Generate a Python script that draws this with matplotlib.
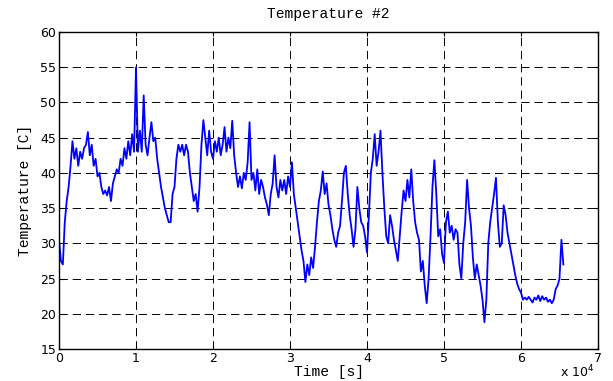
import numpy as np
import matplotlib
matplotlib.use('Agg')
import matplotlib.pyplot as plt
from matplotlib.ticker import FuncFormatter

# sampling step of the trace, seconds
t_step = 250

# temperature, one value every 250 s from t = 0
temp = [
    30.5, 27.5, 27.0, 33.0, 36.0, 38.0, 41.0, 44.5, 42.0, 43.5, 41.0, 43.0,
    42.0, 43.5, 44.0, 45.8, 42.5, 44.0, 41.0, 42.0, 39.5, 40.0, 38.0, 37.0,
    37.5, 36.8, 38.0, 36.0, 38.5, 39.5, 40.5, 40.0, 42.0, 41.0, 43.5, 42.0,
    44.5, 42.5, 45.5, 43.0, 55.0, 43.0, 46.0, 43.0, 51.0, 44.0, 42.5, 45.0,
    47.2, 44.5, 45.0, 42.0, 40.0, 38.0, 36.5, 35.0, 34.0, 33.0, 33.0, 37.0,
    38.0, 42.0, 44.0, 43.0, 44.0, 42.5, 44.0, 43.0, 40.0, 38.0, 36.0, 37.0,
    34.5, 38.0, 44.0, 47.5, 45.0, 42.5, 46.0, 43.0, 42.0, 44.5, 43.0, 45.0,
    42.5, 44.0, 46.5, 43.0, 45.0, 43.5, 47.4, 42.5, 40.0, 38.0, 39.5, 37.8,
    40.0, 39.0, 41.5, 47.2, 39.0, 40.0, 37.5, 40.5, 37.0, 39.0, 38.0, 36.5,
    35.5, 34.0, 37.0, 38.5, 42.5, 38.0, 36.5, 39.0, 37.5, 39.0, 37.0, 39.5,
    38.0, 41.5, 37.0, 35.0, 33.0, 31.0, 29.0, 27.5, 24.5, 27.0, 25.5, 28.0,
    26.5, 29.5, 33.0, 36.0, 37.5, 40.2, 37.0, 38.5, 35.5, 34.0, 32.0, 30.5,
    29.5, 31.5, 32.5, 36.0, 40.0, 41.0, 37.0, 34.0, 32.0, 29.5, 32.0, 38.0,
    35.0, 33.0, 32.5, 31.0, 28.7, 34.0, 40.0, 42.0, 45.5, 41.0, 43.0, 46.0,
    40.0, 35.0, 31.0, 30.0, 34.0, 32.5, 30.5, 29.0, 27.5, 31.0, 34.5, 37.5,
    36.0, 39.0, 36.5, 40.5, 36.0, 33.0, 31.5, 30.5, 26.0, 27.5, 24.0, 21.5,
    25.0, 31.0, 38.0, 41.8, 37.0, 31.0, 32.0, 28.5, 27.2, 33.0, 34.5, 31.5,
    32.5, 30.5, 32.0, 31.5, 27.0, 25.0, 30.0, 33.0, 39.0, 35.0, 32.5, 28.0,
    25.0, 27.0, 25.5, 24.0, 22.0, 18.8, 22.0, 30.0, 33.0, 35.0, 37.0, 39.3,
    33.0, 29.5, 30.0, 35.4, 34.0, 31.5, 30.0, 28.5, 27.0, 25.5, 24.3, 23.5,
    23.0, 22.0, 22.3, 22.0, 22.4, 22.0, 21.6, 22.3, 22.0, 22.6, 21.8, 22.5,
    22.0, 22.3, 21.7, 22.0, 21.5, 22.0, 23.5, 24.0, 25.0, 30.5, 27.0,
]
time = np.arange(len(temp)) * t_step

plt.rcParams['lines.scale_dashes'] = False
mono = 'Liberation Mono'

fig = plt.figure(figsize=(6.13, 3.81), dpi=100)
ax = fig.add_axes([59 / 613, 32 / 381, 539 / 613, 317 / 381])

ax.plot(time, temp, color='#0000FF', linewidth=1.3)

ax.set_xlim(0, 70000)
ax.set_ylim(15, 60)
ax.set_xticks(np.arange(0, 70001, 10000))
ax.set_yticks(np.arange(15, 61, 5))
ax.xaxis.set_major_formatter(FuncFormatter(lambda v, p: f'{v / 1e4:g}'))

ax.grid(True, color='k', linewidth=0.7, linestyle=(0, (6, 3.5)))
ax.tick_params(direction='in', length=3, top=True, right=True,
               labelsize=9, pad=2)
for s in ax.spines.values():
    s.set_linewidth(1.0)

ax.set_title('Temperature #2', fontsize=10.5, family=mono, pad=10)
ax.set_ylabel('Temperature [C]', fontsize=10.5, family=mono, labelpad=6)
ax.set_xlabel('Time [s]', fontsize=10.5, family=mono, labelpad=0)

fig.text(560 / 613, 1 - 380 / 381, r'x 10$^{4}$', fontsize=9,
         ha='left', va='bottom')

fig.savefig('out.png', dpi=100, facecolor='white')
